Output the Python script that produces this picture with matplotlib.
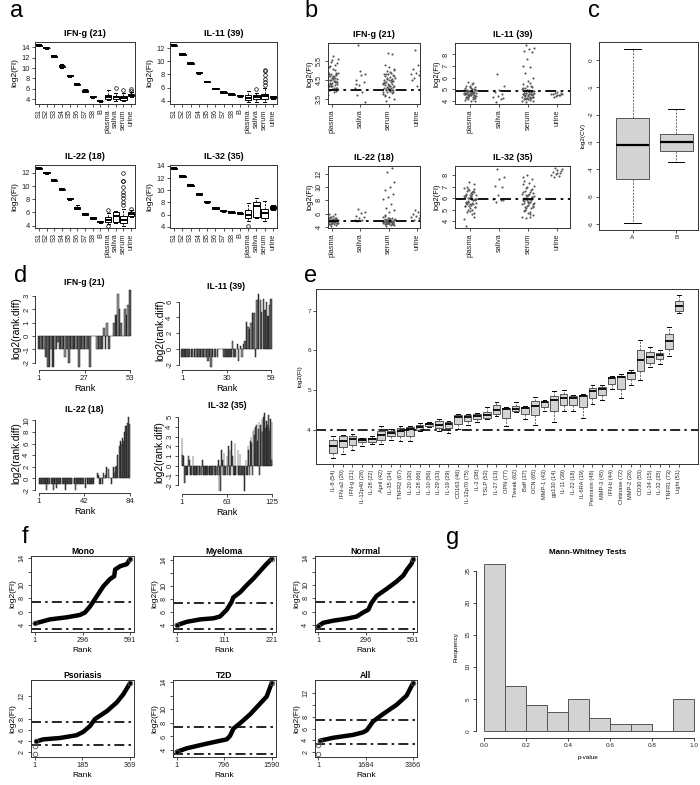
import numpy as np
import matplotlib
matplotlib.use('Agg')
import matplotlib.pyplot as plt

plt.rcParams['font.family'] = ['Liberation Sans', 'DejaVu Sans']

# ======================= DATA =======================
# ---- panel a : standards + sample types (box statistics) ----
a_cats = ['S1', 'S2', 'S3', 'S4', 'S5', 'S6', 'S7', 'S8', 'B',
          'plasma', 'saliva', 'serum', 'urine']
a_titles = ['IFN-g (21)', 'IL-11 (39)', 'IL-22 (18)', 'IL-32 (35)']

a_ifng_med = [14.4, 13.85, 12.25, 10.3, 8.5, 6.9, 5.6, 4.5, 3.7, 4.4, 4.4, 4.3, 4.9]
a_ifng_q1 = [14.3, 13.75, 12.12, 10.15, 8.38, 6.78, 5.48, 4.4, 3.62, 4.1, 4.1, 3.95, 4.65]
a_ifng_q3 = [14.48, 13.93, 12.37, 10.45, 8.62, 7.02, 5.72, 4.6, 3.78, 4.75, 4.65, 4.6, 5.1]
a_ifng_lo = [14.25, 13.7, 12.05, 10.05, 8.3, 6.7, 5.4, 4.35, 3.55, 3.8, 3.7, 3.6, 4.5]
a_ifng_hi = [14.55, 14.0, 12.45, 10.75, 8.75, 7.15, 5.9, 4.7, 3.85, 5.7, 5.2, 5.2, 5.35]
a_ifng_out = [[], [], [], [], [], [], [], [], [], [], [6.1], [5.8], [5.6, 5.95]]

a_il11_med = [12.45, 11.07, 9.68, 8.25, 6.92, 5.85, 5.27, 5.0, 4.76, 4.46, 4.5, 4.67, 4.5]
a_il11_q1 = [12.37, 10.99, 9.6, 8.17, 6.84, 5.77, 5.19, 4.92, 4.68, 4.1, 4.2, 4.3, 4.36]
a_il11_q3 = [12.53, 11.15, 9.76, 8.33, 7.0, 5.93, 5.35, 5.08, 4.84, 4.88, 4.88, 5.03, 4.67]
a_il11_lo = [12.32, 10.94, 9.55, 8.12, 6.79, 5.72, 5.14, 4.87, 4.63, 3.85, 3.85, 3.85, 4.26]
a_il11_hi = [12.58, 11.2, 9.81, 8.38, 7.05, 5.98, 5.4, 5.13, 4.89, 5.55, 5.24, 5.9, 4.77]
a_il11_out = [[], [], [], [], [], [], [], [], [], [], [5.8],
              [6.4, 6.9, 7.35, 7.97, 8.48, 8.7], []]

a_il22_med = [12.7, 12.0, 10.84, 9.52, 8.05, 6.68, 5.77, 5.16, 4.6, 4.9, 5.5, 4.9, 5.77]
a_il22_q1 = [12.62, 11.92, 10.76, 9.44, 7.97, 6.55, 5.67, 5.08, 4.52, 4.5, 4.6, 4.4, 5.5]
a_il22_q3 = [12.78, 12.08, 10.92, 9.6, 8.13, 6.85, 5.87, 5.24, 4.68, 5.3, 6.0, 5.5, 6.0]
a_il22_lo = [12.57, 11.87, 10.71, 9.39, 7.92, 6.5, 5.6, 5.03, 4.47, 4.2, 4.4, 4.0, 5.3]
a_il22_hi = [12.83, 12.13, 10.97, 9.65, 8.18, 7.2, 5.95, 5.29, 4.73, 5.9, 6.2, 6.5, 6.3]
a_il22_out = [[], [], [], [], [], [], [], [], [], [6.3, 4.0], [],
              [12.0, 10.8, 10.7, 9.8, 9.1, 8.6, 8.2, 7.6, 7.1], [6.5]]

a_il32_med = [13.6, 12.3, 10.8, 9.4, 8.1, 7.1, 6.6, 6.4, 6.2, 6.0, 7.4, 6.3, 7.1]
a_il32_q1 = [13.5, 12.2, 10.7, 9.3, 8.0, 7.0, 6.52, 6.32, 6.12, 5.5, 5.7, 5.4, 6.85]
a_il32_q3 = [13.7, 12.4, 10.9, 9.5, 8.2, 7.2, 6.68, 6.48, 6.28, 6.8, 8.0, 6.95, 7.5]
a_il32_lo = [13.45, 12.15, 10.65, 9.25, 7.95, 6.95, 6.47, 6.27, 6.07, 4.9, 5.5, 4.9, 6.7]
a_il32_hi = [13.75, 12.45, 10.95, 9.55, 8.25, 7.25, 6.73, 6.53, 6.33, 7.9, 8.7, 8.2, 7.6]
a_il32_out = [[], [], [], [], [], [], [], [], [], [4.2], [], [], []]

a_yticks = [[4, 6, 8, 10, 12, 14], [4, 6, 8, 10, 12], [4, 6, 8, 10, 12], [4, 6, 8, 10, 12, 14]]

# ---- panel b : strip charts per sample type ----
b_cats = ['plasma', 'saliva', 'serum', 'urine']
b_ifng_plasma = [4.0, 4.1, 4.2, 4.3, 4.45, 4.5, 4.6, 4.7, 4.85, 4.9, 4.05, 4.15, 4.25, 4.35, 4.4,
                 4.55, 4.65, 4.75, 4.8, 5.0, 4.1, 4.2, 4.3, 4.35, 4.5, 4.6, 4.7, 4.9, 5.1, 5.2,
                 3.95, 4.2, 4.3, 4.45, 4.5, 4.55, 4.65, 4.95, 5.3, 5.45, 3.8, 3.9, 4.25, 4.4, 4.6,
                 4.75, 5.05, 5.25, 5.6, 5.75, 3.7, 4.1, 4.2, 4.5, 4.7, 4.8, 5.4, 5.55, 4.15, 4.4,
                 4.3, 4.5, 4.6, 4.0, 4.85]
b_ifng_saliva = [6.34, 4.85, 4.76, 4.5, 4.41, 4.24, 4.11, 3.89, 3.71, 3.36, 5.0, 4.3]
b_ifng_serum = [3.4, 3.5, 3.6, 3.7, 3.8, 3.85, 3.9, 3.95, 4.0, 4.0, 4.05, 4.1, 4.1, 4.15, 4.2,
                4.2, 4.25, 4.3, 4.3, 4.35, 4.4, 4.4, 4.45, 4.5, 4.5, 4.55, 4.6, 4.6, 4.65, 4.7,
                4.75, 4.8, 4.85, 4.9, 5.0, 5.1, 5.2, 5.3, 5.9, 5.95, 3.75, 3.95, 4.05, 4.15, 4.25,
                4.35, 4.45, 4.55, 4.7, 4.95, 3.65, 3.9, 4.1, 4.3, 4.5, 4.8, 5.05, 4.2, 4.4, 4.0]
b_ifng_urine = [6.1, 5.55, 5.3, 5.11, 5.0, 4.9, 4.85, 4.76, 4.6, 4.4, 4.2, 4.5]

b_il11_plasma = [4.3, 4.4, 4.5, 4.6, 4.7, 4.8, 4.9, 5.0, 4.35, 4.45, 4.55, 4.65, 4.75, 4.85, 4.95,
                 5.1, 4.2, 4.25, 4.5, 4.6, 4.7, 4.8, 4.9, 5.2, 5.3, 4.1, 4.15, 4.4, 4.55, 4.65,
                 4.75, 4.85, 5.05, 5.4, 5.6, 3.95, 4.0, 4.3, 4.45, 4.6, 4.7, 4.8, 4.95, 5.15, 5.25,
                 4.05, 4.35, 4.5, 4.65, 4.75, 4.9, 5.0, 4.4, 4.55, 4.7, 4.85, 4.2, 4.6, 4.8, 5.5]
b_il11_saliva = [6.3, 5.3, 4.9, 4.75, 4.6, 4.4, 4.3, 4.1, 3.9, 4.2]
b_il11_serum = [3.9, 4.0, 4.1, 4.15, 4.2, 4.25, 4.3, 4.35, 4.4, 4.45, 4.5, 4.55, 4.6, 4.65, 4.7,
                4.75, 4.8, 4.85, 4.9, 5.0, 4.05, 4.2, 4.3, 4.4, 4.5, 4.6, 4.7, 4.8, 4.9, 5.1,
                5.2, 5.3, 5.4, 5.5, 4.1, 4.35, 4.55, 4.65, 4.75, 4.95, 4.0, 4.25, 4.45, 4.6, 4.85,
                5.05, 5.25, 8.8, 8.6, 8.5, 8.3, 8.2, 7.6, 7.0, 6.9, 6.4, 6.0, 5.7]
b_il11_urine = [4.7, 4.6, 4.5, 4.55, 4.45, 4.4, 4.6, 4.5, 4.35, 4.65, 4.75]

b_il22_plasma = [4.5, 4.6, 4.7, 4.8, 4.9, 5.0, 5.1, 5.2, 5.3, 5.4, 4.55, 4.65, 4.75, 4.85, 4.95,
                 5.05, 5.15, 5.25, 5.5, 5.6, 4.4, 4.5, 4.6, 4.7, 4.8, 4.9, 5.0, 5.1, 5.7, 5.9,
                 4.3, 4.45, 4.6, 4.75, 4.9, 5.0, 5.2, 5.35, 6.0, 4.2, 4.6, 4.8, 4.95, 5.05, 4.7,
                 4.85, 5.3, 5.45, 4.55, 4.9]
b_il22_saliva = [6.7, 6.3, 6.1, 5.6, 5.5, 5.3, 5.1, 5.0, 4.9]
b_il22_serum = [4.2, 4.3, 4.4, 4.5, 4.55, 4.6, 4.65, 4.7, 4.75, 4.8, 4.85, 4.9, 4.95, 5.0, 5.05,
                5.1, 5.2, 5.3, 5.4, 5.5, 4.35, 4.45, 4.6, 4.7, 4.8, 4.9, 5.0, 5.15, 5.25, 5.6,
                4.5, 4.65, 4.75, 4.85, 4.95, 5.1, 5.35, 5.8, 4.4, 4.7, 4.8, 4.9, 5.0, 4.6, 4.75,
                4.85, 12.8, 12.3, 10.8, 10.0, 9.6, 9.0, 8.5, 8.2, 7.4, 6.9, 6.5, 6.2]
b_il22_urine = [6.5, 6.4, 6.2, 6.0, 5.8, 5.6, 5.5, 5.3, 5.0, 4.9]

b_il32_plasma = [5.0, 5.2, 5.4, 5.6, 5.8, 6.0, 6.2, 6.4, 6.6, 6.8, 5.1, 5.3, 5.5, 5.7, 5.9,
                 6.1, 6.3, 6.5, 6.7, 6.9, 4.6, 4.8, 5.25, 5.45, 5.65, 5.85, 6.05, 6.25, 6.45, 7.0,
                 4.4, 4.9, 5.35, 5.55, 5.75, 5.95, 6.15, 6.35, 7.2, 7.4, 4.2, 5.0, 5.5, 5.8, 6.0,
                 6.2, 6.6, 6.8, 5.6, 5.9, 3.6, 4.7, 5.3, 6.1, 6.5, 5.7, 5.95, 6.3]
b_il32_saliva = [8.5, 7.85, 7.7, 7.05, 6.95, 6.25, 5.9, 5.8, 5.7, 5.85]
b_il32_serum = [4.3, 4.5, 4.7, 4.9, 5.1, 5.3, 5.5, 5.7, 5.9, 6.1, 6.3, 6.5, 6.7, 6.9, 7.1,
                7.3, 7.5, 7.7, 8.0, 4.4, 4.8, 5.0, 5.2, 5.4, 5.6, 5.8, 6.0, 6.2, 6.4, 6.6,
                6.8, 7.0, 7.2, 4.6, 5.15, 5.35, 5.55, 5.75, 5.95, 6.15, 6.35, 6.55, 5.25, 5.45, 5.65,
                5.85, 6.05, 6.25, 5.6, 5.9, 6.0, 6.1, 5.8, 7.8, 4.4, 5.0, 6.45, 5.7]
b_il32_urine = [8.6, 8.5, 8.45, 8.3, 8.2, 8.1, 8.0, 7.9, 7.8, 8.35, 8.15]

b_cutoffs = [4.0, 4.8, 4.85, 5.9]
b_yticks = [[3.5, 4.5, 5.5], [4, 5, 6, 7, 8], [4, 6, 8, 10, 12], [4, 5, 6, 7, 8]]

# ---- panel c : log2(CV) ----
c_cats = ['A', 'B']
c_med = [-3.1, -3.02]
c_q1 = [-4.35, -3.33]
c_q3 = [-2.14, -2.7]
c_lo = [-5.97, -3.73]
c_hi = [0.4, -1.8]

# ---- panel d : log2(rank.diff) per rank ----
d_ifng = [-1, -1, -1, -1, -1.58, -2.32, -2.32, -1, -2.32, -1,
          -1, -0.42, -1, -1, -1, -1.58, -1, -2, -1, -1,
          -1, -1, -1, -2.32, -1, -1, -1, -1, -1, -2.32,
          0, 0, 0, -1, -1, -1, -1, 0.58, -1, 1,
          -1, 0, 0, 1, 1.58, 3.17, 2, 1, 0, 2,
          1.58, 2.32, 3.46]
d_il11 = [-1, -1, -1, -1, -1, -1, -1, -1, -1, -1,
          -1, -1, -1, -1, -1, -1, -1, -1.58, -1, -2.32,
          -1, -1, -1, -1, 0, 0, 0, -1, -1, -1,
          -1, -1, -1, 1, -1, -1, 0.58, -1.58, 0.42, -1,
          0.58, 1, 3.46, 2.81, 2.58, 3.32, 4.52, 4.58, -1, 6.2,
          7.0, 6.2, 4.7, 6.3, 5.0, 6.0, 4.2, 5.6, 6.3]
d_il22 = [-1, -1, -1, -1, -1, -1, -1, -2, -1, -1,
          -1, -1, -1, -2, -1, -1, -1.58, -1, -1, -1,
          -1, -1, -1, -1, -2, -1, -1, -1, -1, -1,
          -1, -1, -1, -2, -1, -1, -1, -1, -1, -1,
          -1, -1, -1.58, 0, -1, -1, -1, -1, -1, -1,
          -1, 0, 0, 1, 0.58, -1, -1, 0, -1, 1,
          0, 0.58, 2, 1.58, 0, 0, -1, 0, 2, 1,
          2, 2.1, 4, 5.6, 6.5, 6, 7, 6.5, 8, 9,
          9, 9.5, 10.6, 9.4]
d_il32 = [2.81, 1.1, 1, -1.81, -1.81, -1, -1, 0, -1, 1,
          0.58, -1, -1, -1, -1, 1, -1, -1, -1, -1,
          -1, -1, -1, 0, -1, -1, -1, -1, 0.58, -1,
          -1, -1, -1, -1, -1, -1, -1, -1, -1, -1,
          -1, -1, -1, 0, -1, -1, -1, -1, -1, -1,
          0.58, -2.58, -1, -2.58, 1.58, -1, 0.58, -1, 1.32, -1,
          -1, 0, 1, -1, 2, -1, 1.58, -1, 2.58, 0,
          1, -1, -1, 2.32, -1, 0, -1, 1.58, -1, -1,
          1.2, -1, -1, -1, 0, -1, -2.58, -1, 0.58, -1,
          -1, 2, 1.58, -1, 2.58, 3, 2.32, -1, 3.6, 3.8,
          3.2, 4, 3.6, 4.2, 2.5, 3.8, 4.5, -1, 4.2, 3.7,
          4.8, 3.5, 5, 4.4, 5.4, 3.9, 4.6, 2.8, 4.2, 5.2,
          4.0, 3.6, 4.8, 0.6, 4.5]
d_xticks = [[1, 27, 53], [1, 30, 59], [1, 42, 84], [1, 63, 125]]
d_yticks = [[-2, -1, 0, 1, 2, 3], [-2, 0, 2, 4, 6], [-2, 0, 2, 4, 6, 8, 10],
            [-2, -1, 0, 1, 2, 3, 4, 5]]

# ---- panel e : log2(FI) of blanks per analyte ----
e_labels = ['IL-8 (54)', 'IFN-a2 (20)', 'IFN-g (21)', 'IL-12p40 (28)', 'IL-28 (22)', 'April (42)',
            'IL-35 (34)', 'TNFR2 (67)', 'IL-20 (30)', 'IL-28 (66)', 'IL-10 (56)', 'IL-29 (33)',
            'IL-19 (29)', 'CD163 (46)', 'IL-12p70 (75)', 'IL-2 (38)', 'TSLP (52)', 'IL-27 (13)',
            'OPN (77)', 'Tweak (62)', 'Baff (37)', 'OCN (65)', 'MMP-1 (43)', 'gp130 (14)',
            'IL-11 (39)', 'IL-22 (18)', 'IL-6RA (19)', 'Pentraxin (48)', 'MMP-3 (45)', 'IFN-b (44)',
            'Chitinase (72)', 'MMP-2 (26)', 'CD30 (53)', 'IL-34 (15)', 'IL-32 (35)', 'TNFR1 (73)',
            'Light (51)']
e_med = [3.58, 3.71, 3.76, 3.73, 3.76, 3.86, 3.92, 3.98, 4.03, 4.08, 4.15, 4.13, 4.15, 4.33,
         4.32, 4.34, 4.36, 4.50, 4.52, 4.51, 4.55, 4.59, 4.69, 4.76, 4.80, 4.80, 4.86, 4.98,
         5.03, 5.29, 5.32, 5.43, 5.75, 5.84, 5.88, 6.23, 7.11]
e_q1 = [3.42, 3.57, 3.61, 3.68, 3.69, 3.73, 3.83, 3.83, 3.85, 4.00, 4.10, 4.05, 4.05, 4.15,
        4.22, 4.26, 4.30, 4.40, 4.29, 4.46, 4.40, 4.36, 4.58, 4.47, 4.63, 4.61, 4.58, 4.80,
        4.88, 5.15, 5.02, 5.28, 5.48, 5.69, 5.78, 6.03, 7.00]
e_q3 = [3.75, 3.83, 3.83, 3.78, 3.79, 3.98, 3.98, 4.04, 4.07, 4.13, 4.18, 4.21, 4.19, 4.38,
        4.38, 4.40, 4.44, 4.61, 4.55, 4.60, 4.57, 4.73, 4.72, 4.86, 4.90, 4.86, 4.88, 5.05,
        5.08, 5.32, 5.36, 5.46, 6.00, 5.96, 5.94, 6.42, 7.23]
e_lo = [3.30, 3.40, 3.48, 3.58, 3.65, 3.65, 3.75, 3.72, 3.72, 3.98, 4.08, 3.97, 3.92, 4.01,
        4.13, 4.19, 4.28, 4.34, 4.10, 4.44, 4.28, 4.13, 4.48, 4.19, 4.48, 4.48, 4.30, 4.65,
        4.76, 5.02, 4.80, 5.13, 5.25, 5.59, 5.65, 5.86, 6.93]
e_hi = [3.83, 3.86, 3.88, 3.79, 3.83, 4.09, 4.01, 4.09, 4.09, 4.17, 4.19, 4.26, 4.22, 4.40,
        4.40, 4.43, 4.57, 4.71, 4.57, 4.71, 4.59, 4.83, 4.74, 4.98, 5.01, 4.88, 4.90, 5.13,
        5.13, 5.34, 5.40, 5.50, 6.26, 6.08, 6.01, 6.59, 7.38]
e_cutoff = 4.0

# ---- panel f : ranked log2(FI) per cohort ----
f_titles = ['Mono', 'Myeloma', 'Normal', 'Psoriasis', 'T2D', 'All']
f_n = [591, 221, 591, 369, 1590, 3366]
f_mid = [296, 111, 296, 185, 796, 1684]
f_mono_rank = [1, 94, 198, 280, 311, 343, 384, 425, 467, 492, 498, 529, 570, 591]
f_mono_val = [4.25, 4.86, 5.17, 5.52, 5.88, 6.79, 8.3, 9.8, 10.9, 11.3, 12.3, 12.8, 13.1, 13.9]
f_myel_rank = [1, 24, 55, 86, 101, 117, 128, 132, 148, 163, 179, 194, 202, 209, 221]
f_myel_val = [4.0, 4.53, 4.9, 5.07, 5.34, 6.4, 7.58, 8.28, 9.08, 10.15, 11.2, 12.3, 12.9, 13.4, 14.2]
f_norm_rank = [1, 32, 94, 177, 239, 280, 312, 332, 363, 425, 487, 529, 550, 581, 591]
f_norm_val = [3.85, 4.36, 4.67, 4.97, 5.28, 5.9, 6.3, 7.33, 8.36, 9.4, 10.5, 11.4, 12.2, 13.2, 13.9]
f_psor_rank = [1, 2, 7, 33, 98, 162, 188, 214, 233, 279, 317, 343, 369]
f_psor_val = [1.7, 3.23, 3.96, 4.33, 4.58, 5.07, 5.68, 6.72, 7.95, 9.36, 10.9, 12.4, 14.4]
f_t2d_rank = [1, 168, 503, 837, 893, 949, 1060, 1228, 1395, 1507, 1590]
f_t2d_val = [3.74, 4.26, 4.95, 5.58, 6.1, 7.16, 7.95, 9.26, 10.84, 11.9, 13.9]
f_all_rank = [1, 2, 60, 532, 1241, 1595, 1713, 1949, 2303, 2776, 3130, 3366]
f_all_val = [1.7, 3.23, 3.96, 4.45, 4.94, 5.37, 5.68, 7.21, 8.44, 9.98, 11.5, 13.66]
f_isolated = [0, 0, 0, 2, 0, 2]
f_cut_hi = 7.4
f_cut_lo = 3.4

# ---- panel g : histogram of p-values ----
g_edges = [0.0, 0.1, 0.2, 0.3, 0.4, 0.5, 0.6, 0.7, 0.8, 0.9, 1.0]
g_counts = [26, 7, 4, 3, 5, 2, 1, 1, 0, 5]

# ======================= DRAWING =======================
W, H = 700.0, 785.0
fig = plt.figure(figsize=(7.0, 7.85), dpi=100)

EDGE = '#333333'
DASHDOT = (0, (6, 2.5, 1.5, 2.5))


def axpx(l, t, r, b):
    return fig.add_axes([l / W, 1 - b / H, (r - l) / W, (b - t) / H])


def rlim(lo, hi, f=0.04):
    d = (hi - lo) * f
    return lo - d, hi + d


def style(ax, fs):
    for s in ax.spines.values():
        s.set_linewidth(0.7)
        s.set_color(EDGE)
    ax.tick_params(length=2.5, width=0.6, pad=1.2, labelsize=fs, color=EDGE, labelcolor='#222222')


def rbxp(ax, med, q1, q3, lo, hi, out, width, face, edge, medlw):
    stats = [dict(med=m, q1=a, q3=b, whislo=l, whishi=h, fliers=f)
             for m, a, b, l, h, f in zip(med, q1, q3, lo, hi, out)]
    ax.bxp(stats, positions=list(range(1, len(stats) + 1)), widths=width,
           capwidths=width * 0.5, patch_artist=True, manage_ticks=False,
           boxprops=dict(facecolor=face, edgecolor=edge, linewidth=0.7),
           medianprops=dict(color='black', linewidth=medlw, solid_capstyle='butt'),
           whiskerprops=dict(color=edge, linewidth=0.6, linestyle=(0, (2.5, 1.5))),
           capprops=dict(color='black', linewidth=0.7),
           flierprops=dict(marker='o', markersize=2.6, markerfacecolor='none',
                           markeredgecolor='black', markeredgewidth=0.5))


def rot_yticks(ax, ticks, labels=None, fs=5.5):
    ax.set_yticks(ticks)
    ax.set_yticklabels(labels if labels is not None else [str(t) for t in ticks],
                       rotation=90, va='center', fontsize=fs)


def letter(x, y, s):
    fig.text(x / W, 1 - y / H, s, fontsize=17, va='baseline', ha='left')


# ---------- panel a ----------
a_sets = [
    (a_ifng_med, a_ifng_q1, a_ifng_q3, a_ifng_lo, a_ifng_hi, a_ifng_out),
    (a_il11_med, a_il11_q1, a_il11_q3, a_il11_lo, a_il11_hi, a_il11_out),
    (a_il22_med, a_il22_q1, a_il22_q3, a_il22_lo, a_il22_hi, a_il22_out),
    (a_il32_med, a_il32_q1, a_il32_q3, a_il32_lo, a_il32_hi, a_il32_out),
]
a_pos = [(35, 42, 135, 104), (170, 42, 277, 104), (35, 165, 135, 228), (170, 165, 277, 228)]
for k in range(4):
    ax = axpx(*a_pos[k])
    med, q1, q3, lo, hi, out = a_sets[k]
    rbxp(ax, med, q1, q3, lo, hi, out, 0.8, 'white', 'black', 1.4)
    allv = lo + hi + [v for f in out for v in f]
    ax.set_xlim(0.5, 13.5)
    ax.set_ylim(*rlim(min(allv), max(allv)))
    style(ax, 5.4)
    ax.set_xticks(range(1, 14))
    ax.set_xticklabels(a_cats, rotation=90, fontsize=5.3)
    ax.set_yticks(a_yticks[k])
    ax.set_ylabel('log2(FI)', fontsize=6, labelpad=2)
    ax.set_title(a_titles[k], fontsize=6.5, fontweight='bold', pad=4)

# ---------- panel b ----------
b_sets = [
    (b_ifng_plasma, b_ifng_saliva, b_ifng_serum, b_ifng_urine),
    (b_il11_plasma, b_il11_saliva, b_il11_serum, b_il11_urine),
    (b_il22_plasma, b_il22_saliva, b_il22_serum, b_il22_urine),
    (b_il32_plasma, b_il32_saliva, b_il32_serum, b_il32_urine),
]
b_pos = [(328, 43, 420, 104), (455, 43, 570, 104), (328, 166, 420, 228), (455, 166, 570, 228)]
b_xlim = [(0.86, 4.1), (0.48, 4.45), (0.86, 4.1), (0.48, 4.45)]
for k in range(4):
    ax = axpx(*b_pos[k])
    allv = []
    for i, vals in enumerate(b_sets[k]):
        n = len(vals)
        jit = ((np.arange(n) * 0.6180339887 + 0.3) % 1.0 - 0.5) * 0.42
        ax.scatter(i + 1 + jit, vals, s=2.3, c='#555555', linewidths=0)
        allv += vals
    ax.axhline(b_cutoffs[k], color='black', lw=1.3, linestyle=DASHDOT)
    ax.set_xlim(*b_xlim[k])
    ax.set_ylim(*rlim(min(allv), max(allv)))
    style(ax, 5.3)
    ax.set_xticks(range(1, 5))
    ax.set_xticklabels(b_cats, rotation=90, fontsize=5.3)
    rot_yticks(ax, b_yticks[k], fs=5.3)
    ax.set_ylabel('log2(FI)', fontsize=5.5, labelpad=1.5)
    ax.set_title(a_titles[k], fontsize=6.5, fontweight='bold', pad=4)

# ---------- panel c ----------
ax = axpx(599, 42, 698, 230)
rbxp(ax, c_med, c_q1, c_q3, c_lo, c_hi, [[], []], 0.75, '#d3d3d3', '#555555', 1.6)
ax.set_xlim(0.23, 2.5)
ax.set_ylim(*rlim(min(c_lo), max(c_hi)))
style(ax, 4.6)
ax.set_xticks([1, 2])
ax.set_xticklabels(c_cats, fontsize=4.6)
rot_yticks(ax, [0, -1, -2, -3, -4, -5, -6], fs=4.6)
ax.set_ylabel('log2(CV)', fontsize=4.6, labelpad=2)

# ---------- panel d ----------
d_sets = [d_ifng, d_il11, d_il22, d_il32]
d_pos = [(35.4, 287, 133.6, 370), (178.5, 291, 274.5, 370),
         (35.4, 414, 133.6, 493), (178.4, 410, 275.6, 494)]
grays = ['#4a4a4a', '#808080', '#3c3c3c', '#9e9e9e', '#5c5c5c', '#6e6e6e']
for k in range(4):
    ax = axpx(*d_pos[k])
    vals = d_sets[k]
    n = len(vals)
    x = np.arange(1, n + 1)
    ax.bar(x, vals, width=0.9, color=[grays[i % len(grays)] for i in range(n)],
           edgecolor='#1e1e1e', linewidth=0.35)
    ext = 0.04 * (n - 1)
    ax.set_xlim(1 - ext, n + ext)
    ax.set_ylim(*rlim(min(vals), max(vals)))
    style(ax, 5.6)
    ax.spines['top'].set_visible(False)
    ax.spines['right'].set_visible(False)
    yt = d_yticks[k]
    ax.spines['left'].set_bounds(yt[0], yt[-1])
    ax.spines['bottom'].set_bounds(1, n)
    ax.set_xticks(d_xticks[k])
    rot_yticks(ax, yt, fs=5.6)
    ax.set_xlabel('Rank', fontsize=6.6, labelpad=1.5)
    ax.set_ylabel('log2(rank.diff)', fontsize=7.3, labelpad=1)
    ax.set_title(a_titles[k], fontsize=6.3, fontweight='bold', pad=1)

# ---------- panel e ----------
ax = axpx(316, 289, 698, 464)
ne = len(e_med)
rbxp(ax, e_med, e_q1, e_q3, e_lo, e_hi, [[] for _ in range(ne)], 0.8, '#d3d3d3', '#555555', 1.3)
ax.axhline(e_cutoff, color='black', lw=1.2, linestyle=DASHDOT)
ax.set_xlim(-0.8, ne + 2)
ax.set_ylim(*rlim(min(e_lo), max(e_hi)))
style(ax, 4.6)
ax.set_xticks(range(1, ne + 1))
ax.set_xticklabels(e_labels, rotation=90, fontsize=4.1)
ax.set_yticks([4, 5, 6, 7])
ax.set_ylabel('log2(FI)', fontsize=4.6, labelpad=3)

# ---------- panel f ----------
f_sets = [(f_mono_rank, f_mono_val), (f_myel_rank, f_myel_val), (f_norm_rank, f_norm_val),
          (f_psor_rank, f_psor_val), (f_t2d_rank, f_t2d_val), (f_all_rank, f_all_val)]
f_pos = [(31, 556, 134, 632), (173, 556, 275.5, 632), (314.5, 556, 417, 632),
         (31, 680, 134, 757), (173, 680, 275.5, 757), (314.5, 680, 417, 757)]
for k in range(6):
    ax = axpx(*f_pos[k])
    rk, vv = f_sets[k]
    s = f_isolated[k]
    ax.axhline(f_cut_hi, color='black', lw=1.2, linestyle=DASHDOT)
    ax.axhline(f_cut_lo, color='black', lw=1.2, linestyle=DASHDOT)
    ax.plot(rk[s:], vv[s:], color='black', lw=3.2, solid_capstyle='round', solid_joinstyle='round')
    ax.plot(rk[:s] + [rk[s], rk[-1]], vv[:s] + [vv[s], vv[-1]], 'o', ms=3.3, mfc='none',
            mec='#555555', mew=0.6)
    n = f_n[k]
    ext = 0.04 * (n - 1)
    ax.set_xlim(1 - ext, n + ext)
    ax.set_ylim(*rlim(min(vv + [f_cut_lo]), max(vv + [f_cut_hi])))
    style(ax, 5.2)
    ax.set_xticks([1, f_mid[k], n])
    if min(vv) < 3:
        rot_yticks(ax, [2, 4, 6, 8, 10, 12], ['2', '4', '6', '8', '', '12'], fs=5.2)
    else:
        rot_yticks(ax, [4, 6, 8, 10, 12, 14], ['4', '6', '8', '10', '', '14'], fs=5.2)
    ax.set_xlabel('Rank', fontsize=6, labelpad=2)
    ax.set_ylabel('log2(FI)', fontsize=6, labelpad=1.5)
    ax.set_title(f_titles[k], fontsize=6.2, fontweight='bold', pad=1.5)

# ---------- panel g ----------
ax = axpx(476, 557, 700, 737.5)
ax.bar(g_edges[:-1], g_counts, width=0.1, align='edge', color='#d3d3d3',
       edgecolor='#555555', linewidth=0.7)
ax.set_xlim(-0.04, 1.029)
ax.set_ylim(-1.05, 27.14)
style(ax, 4.6)
ax.spines['top'].set_visible(False)
ax.spines['right'].set_visible(False)
ax.spines['left'].set_bounds(0, 25)
ax.spines['bottom'].set_bounds(0, 1)
ax.set_xticks([0, 0.2, 0.4, 0.6, 0.8, 1.0])
ax.set_xticklabels(['0.0', '0.2', '0.4', '0.6', '0.8', '1.0'], fontsize=4.6)
rot_yticks(ax, [0, 5, 10, 15, 20, 25], fs=4.6)
ax.set_xlabel('p-value', fontsize=4.6, labelpad=5)
ax.set_ylabel('Frequency', fontsize=4.6, labelpad=5)
ax.set_title('Mann-Whitney Tests', fontsize=5.8, fontweight='bold', pad=2)

# ---------- panel letters ----------
letter(10, 17, 'a')
letter(304, 17, 'b')
letter(588, 17, 'c')
letter(14, 282, 'd')
letter(304, 282, 'e')
letter(22, 543, 'f')
letter(446, 544, 'g')

fig.savefig('out.png', dpi=100)
